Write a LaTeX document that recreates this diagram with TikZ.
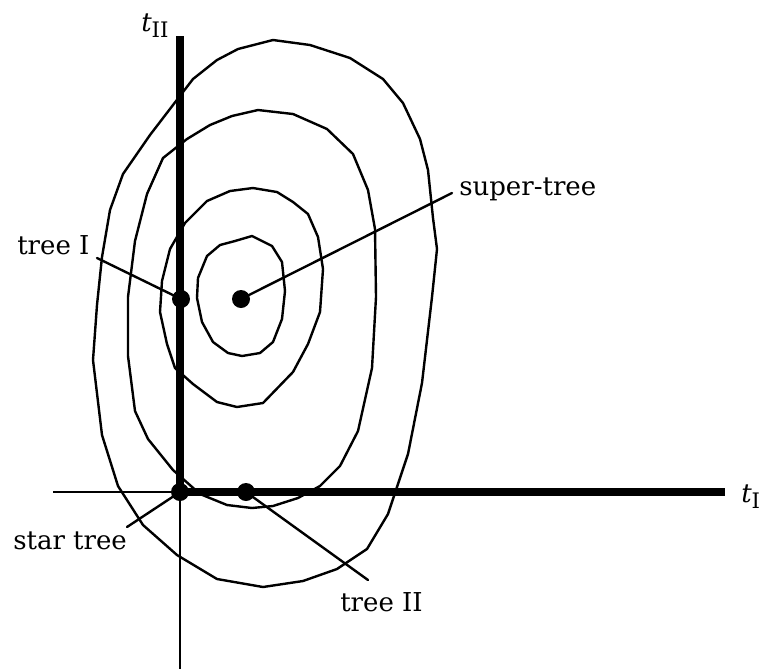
\documentclass[tikz,border=0pt]{standalone}
\usepackage{fontspec}
\setmainfont{DejaVu Serif}
\begin{document}
\begin{tikzpicture}[
    x=0.75pt, y=-0.75pt,
    line cap=round,
    line join=round,
    contour/.style={draw=black, line width=1.8pt},
    thickaxis/.style={draw=black, line width=6pt, line cap=butt},
    thinaxis/.style={draw=black, line width=1.5pt, line cap=butt},
    leader/.style={draw=black, line width=1.8pt},
    vertex/.style={circle, fill=black, inner sep=0pt, minimum size=13.5pt},
    lbl/.style={font=\fontsize{19.5}{23}\selectfont, inner sep=0pt, anchor=base west}
]
\useasboundingbox (0,0) rectangle (759,669);

\draw[contour] (238,49) -- (273,40) -- (310,45) -- (350,58) -- (383,79) -- (403,103)
  -- (420,139) -- (428,170) -- (433,218) -- (437,249) -- (432,297) -- (422,383)
  -- (408,454) -- (388,514) -- (367,549) -- (337,569) -- (303,581) -- (263,587)
  -- (217,579) -- (177,555) -- (143,525) -- (118,486) -- (102,435) -- (93,360)
  -- (97,305) -- (102,257) -- (110,210) -- (123,174) -- (150,135) -- (173,105)
  -- (193,79) -- (217,60) -- cycle;
\draw[contour] (232,116) -- (258,110) -- (293,114) -- (327,129) -- (353,154)
  -- (368,190) -- (375,229) -- (376,297) -- (372,368) -- (358,431) -- (340,466)
  -- (320,486) -- (298,498) -- (273,506) -- (252,508) -- (227,505) -- (200,494)
  -- (173,470) -- (148,439) -- (135,411) -- (128,356) -- (128,297) -- (135,241)
  -- (147,194) -- (163,158) -- (187,139) -- (210,125) -- cycle;
\draw[contour] (230,191) -- (253,188) -- (277,192) -- (293,202) -- (308,214)
  -- (318,237) -- (323,269) -- (320,312) -- (308,344) -- (293,372) -- (263,403)
  -- (237,407) -- (217,402) -- (193,384) -- (175,368) -- (167,344) -- (160,312)
  -- (162,281) -- (170,249) -- (185,223) -- (207,201) -- cycle;
\draw[contour] (235,241) -- (252,236) -- (272,246) -- (282,262) -- (285,291)
  -- (282,319) -- (273,342) -- (260,353) -- (242,356) -- (228,353) -- (213,342)
  -- (202,322) -- (197,298) -- (198,278) -- (207,256) -- (220,245) -- cycle;

\coordinate (O) at (180,492);
\coordinate (xleft) at (53,492);
\coordinate (xend) at (725,492);
\coordinate (ytop) at (180,36);
\coordinate (ybot) at (180,669);

\draw[thinaxis] (xleft) -- (O);
\draw[thinaxis] (O) -- (ybot);
\draw[thickaxis] (O) -- (xend);
\draw[thickaxis] (O) -- (ytop);

\node[lbl] (tII) at (141,31) {\itshape t\upshape\raisebox{-4.5pt}{\fontsize{16}{18}\selectfont II}};
\node[lbl] (tI) at (741,502) {\itshape t\upshape\raisebox{-4.5pt}{\fontsize{16}{18}\selectfont I}};

\node[vertex] (treeI) at (181,299) {};
\node[vertex] (super) at (241,299) {};
\node[vertex] (star) at (180,492) {};
\node[vertex] (treeII) at (246,492) {};

\node[lbl] (treeIlbl) at (17,254) {tree I};
\node[lbl] (superlbl) at (459,195) {super-tree};
\node[lbl] (starlbl) at (13,549) {star tree};
\node[lbl] (treeIIlbl) at (340,611) {tree II};

\coordinate (treeIend) at (97,258);
\coordinate (superend) at (452,193);
\coordinate (starend) at (127,527);
\coordinate (treeIIend) at (368,580);

\draw[leader] (treeI.center) -- (treeIend);
\draw[leader] (super.center) -- (superend);
\draw[leader] (star.center) -- (starend);
\draw[leader] (treeII.center) -- (treeIIend);
\end{tikzpicture}
\end{document}
